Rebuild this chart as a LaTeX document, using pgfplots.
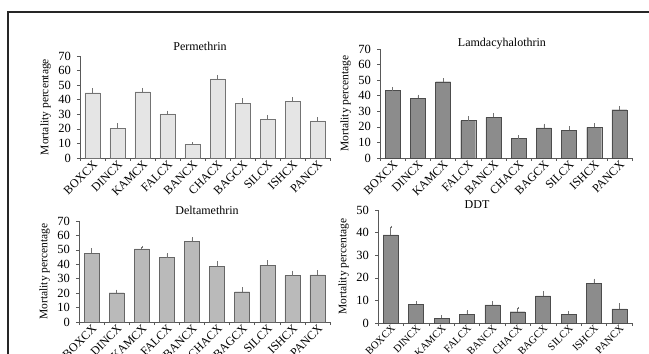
\documentclass[border=0pt]{standalone}
\usepackage{pgfplots}
\pgfplotsset{compat=1.18}
\usepackage{pgfplotstable}
\usepackage{fontspec}
\setmainfont{Liberation Serif}

\pgfplotstableread{
x y e
0 44.8 2.3
1 20.5 2.5
2 45.5 2.0
3 30.2 1.6
4 9.5 0.7
5 54.3 2.0
6 37.5 2.7
7 26.6 2.3
8 39.0 1.9
9 25.5 1.8
}\permtab
\pgfplotstableread{
x y e
0 43.3 1.7
1 38.5 1.5
2 49.0 1.7
3 24.0 2.1
4 26.1 2.2
5 12.4 1.5
6 19.3 2.1
7 17.8 2.1
8 19.7 2.1
9 31.0 1.8
}\lamdatab
\pgfplotstableread{
x y e
0 47.8 2.5
1 20.3 1.4
2 50.6 1.4
3 44.6 2.5
4 56.1 1.9
5 38.6 3.0
6 21.0 2.3
7 39.5 2.5
8 32.1 2.8
9 32.6 2.5
}\deltatab
\pgfplotstableread{
x y e
0 39.0 3.6
1 8.4 0.9
2 2.2 0.8
3 3.8 1.5
4 8.0 1.3
5 5.0 1.7
6 12.0 1.8
7 3.8 1.1
8 17.5 1.7
9 6.2 2.1
}\ddttab

\pgfplotsset{
  panel/.style={
    scale only axis,
    anchor=south west,
    width=250pt,
    xmin=-0.5, xmax=9.5, ymin=0,
    axis x line*=bottom, axis y line*=left,
    axis line style={-, draw=black!65, line width=0.6pt},
    tick align=outside,
    major tick length=3pt,
    tick style={draw=black!65, line width=0.5pt},
    xtick={-0.5,0.5,...,9.5}, xticklabel=\empty,
    extra x ticks={0,...,9},
    extra x tick labels={BOXCX,DINCX,KAMCX,FALCX,BANCX,CHACX,BAGCX,SILCX,ISHCX,PANCX},
    extra x tick style={major tick length=0pt,
      tick label style={rotate=45, anchor=north east, inner sep=1pt}},
    /pgf/number format/assume math mode=true,
    y tick label style={font=\fontsize{12.5}{13}\selectfont, inner sep=1pt, xshift=-5pt},
    ylabel={Mortality percentage},
    ylabel style={font=\fontsize{11.5}{12}\selectfont, yshift=3pt},
    title style={font=\fontsize{12}{13}\selectfont, anchor=base},
    ytick distance=10,
    clip=false,
  },
  bigx/.style={extra x tick style={tick label style={font=\fontsize{12}{13}\selectfont}}},
  smallx/.style={extra x tick style={tick label style={font=\fontsize{10.5}{11}\selectfont}}},
  bars/.style={ybar, bar width=15pt, bar shift=0pt, draw=#1,
    error bars/y dir=plus, error bars/y explicit,
    error bars/error bar style={draw=black!55, line width=0.6pt},
    error bars/error mark=-,
    error bars/error mark options={mark size=1pt, draw=black!55}},
}

\begin{document}
\begin{tikzpicture}
\useasboundingbox (0,0) rectangle (649pt,354pt);
\clip (0,0) rectangle (649pt,354pt);
\draw[line width=1.2pt, black!85] (8pt,-20pt) -- (8pt,342pt) -- (700pt,342pt);

\begin{axis}[panel, bigx, at={(80pt,196pt)}, height=102pt, ymax=70,
  title={Permethrin}, title style={at={(axis description cs:0.48,1)}, yshift=-0.3pt}]
\addplot[fill=black!10, bars=black!55] table[x=x,y=y,y error=e] {\permtab};
\end{axis}

\begin{axis}[panel, bigx, at={(380pt,196pt)}, width=252pt, height=109pt, ymax=70,
  title={Lamdacyhalothrin}, title style={at={(axis description cs:0.484,1)}, yshift=-3pt}]
\addplot[fill=black!45, bars=black!70] table[x=x,y=y,y error=e] {\lamdatab};
\end{axis}

\begin{axis}[panel, bigx, at={(79pt,32pt)}, width=251pt, height=101pt, ymax=70,
  title={Deltamethrin}, title style={at={(axis description cs:0.51,1)}, yshift=0.5pt}]
\addplot[fill=black!27, bars=black!60] table[x=x,y=y,y error=e] {\deltatab};
\end{axis}

\begin{axis}[panel, smallx, at={(378pt,31pt)}, width=254pt, height=113pt, ymax=50,
  title={DDT}, title style={at={(axis description cs:0.39,1)}, yshift=-4.3pt}]
\addplot[fill=black!45, bars=black!70] table[x=x,y=y,y error=e] {\ddttab};
\end{axis}
\end{tikzpicture}
\end{document}
